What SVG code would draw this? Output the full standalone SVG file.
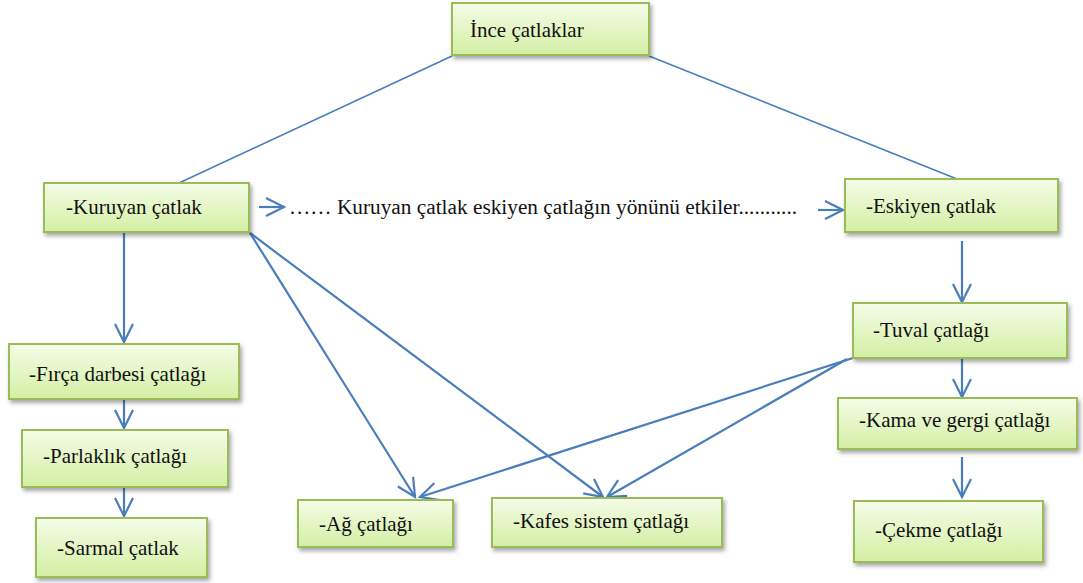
<svg xmlns="http://www.w3.org/2000/svg" width="1083" height="583" viewBox="0 0 1083 583">
<defs>
<linearGradient id="g" x1="0" y1="0" x2="0" y2="1">
<stop offset="0" stop-color="#f5fce8"/>
<stop offset="1" stop-color="#d3efa3"/>
</linearGradient>
<filter id="sh" x="-10%" y="-20%" width="130%" height="160%">
<feDropShadow dx="2" dy="3" stdDeviation="2" flood-color="#000" flood-opacity="0.35"/>
</filter>
<marker id="ah" markerUnits="userSpaceOnUse" markerWidth="24" markerHeight="24" viewBox="-20 -12 24 24" refX="0" refY="0" orient="auto">
<path d="M-18,-9 L0,0 L-18,9" fill="none" stroke="#4a7ebb" stroke-width="2.2"/>
</marker>
</defs>
<style>
.box{fill:url(#g);stroke:#9bbb59;stroke-width:2;filter:url(#sh)}
text{font-family:'Liberation Serif','DejaVu Serif',serif;font-size:21px;fill:#111}
.lbl{font-size:21.3px}
.ln{stroke:#4a7ebb;stroke-width:1.6;fill:none}
.ar{stroke:#4a7ebb;stroke-width:2.2;fill:none;marker-end:url(#ah)}
</style>
<rect width="1083" height="583" fill="#fff"/>
<g id="connectors">
<line class="ln" x1="452" y1="56" x2="179" y2="183"/>
<line class="ln" x1="649" y1="56" x2="957" y2="179"/>
<line class="ar" x1="124" y1="232" x2="124" y2="342"/>
<line class="ar" x1="124" y1="399" x2="124" y2="428"/>
<line class="ar" x1="124" y1="487" x2="124" y2="516"/>
<line class="ar" x1="259" y1="207" x2="284" y2="207"/>
<line class="ar" x1="818" y1="210" x2="843" y2="210"/>
<line class="ar" x1="250" y1="233" x2="415" y2="497"/>
<line class="ar" x1="250" y1="233" x2="603" y2="497"/>
<line class="ar" x1="853" y1="358" x2="420" y2="497"/>
<line class="ar" x1="847" y1="359" x2="607" y2="497"/>
<line class="ar" x1="962" y1="241" x2="962" y2="302"/>
<line class="ar" x1="962" y1="358" x2="962" y2="397"/>
<line class="ar" x1="962" y1="457" x2="962" y2="497"/>
</g>
<g id="n-ince"><rect class="box" x="452" y="3" width="197" height="52"/><text x="470" y="37">İnce çatlaklar</text></g>
<g id="n-kuruyan"><rect class="box" x="44" y="183" width="205" height="49"/><text x="66" y="214">-Kuruyan çatlak</text></g>
<g id="n-firca"><rect class="box" x="9" y="344" width="230" height="55"/><text x="29" y="381">-Fırça darbesi çatlağı</text></g>
<g id="n-parlaklik"><rect class="box" x="22" y="430" width="206" height="57"/><text x="43" y="463">-Parlaklık çatlağı</text></g>
<g id="n-sarmal"><rect class="box" x="36" y="518" width="171" height="59"/><text x="57" y="555">-Sarmal çatlak</text></g>
<g id="n-ag"><rect class="box" x="298" y="500" width="155" height="47"/><text x="319" y="531">-Ağ çatlağı</text></g>
<g id="n-kafes"><rect class="box" x="492" y="498" width="230" height="49"/><text x="513" y="528">-Kafes sistem çatlağı</text></g>
<g id="n-eskiyen"><rect class="box" x="845" y="179" width="213" height="53"/><text x="866" y="213">-Eskiyen çatlak</text></g>
<g id="n-tuval"><rect class="box" x="853" y="303" width="214" height="55"/><text x="873" y="337">-Tuval çatlağı</text></g>
<g id="n-kama"><rect class="box" x="838" y="398" width="239" height="51"/><text x="859" y="427">-Kama ve gergi çatlağı</text></g>
<g id="n-cekme"><rect class="box" x="854" y="501" width="189" height="61"/><text x="875" y="537">-Çekme çatlağı</text></g>
<g id="label"><text class="lbl" x="289" y="214">…… Kuruyan çatlak eskiyen çatlağın yönünü etkiler...........</text></g>
</svg>
